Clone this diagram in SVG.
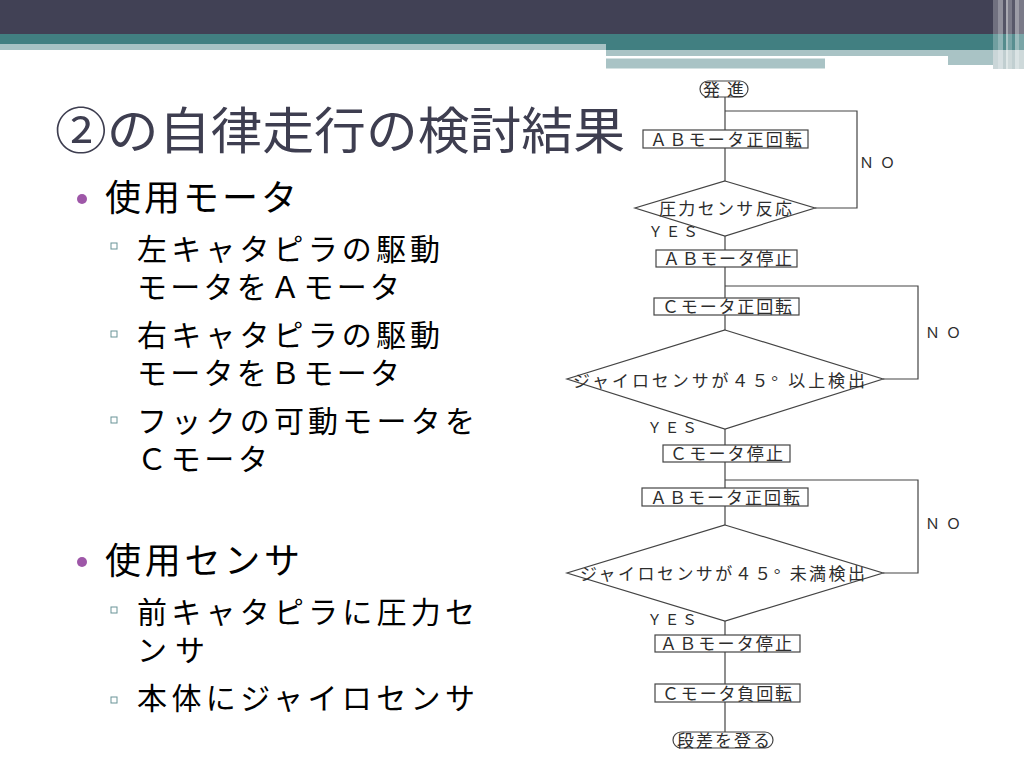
<svg xmlns="http://www.w3.org/2000/svg" width="1024" height="768" viewBox="0 0 1024 768">
<style>
.ttl{font-family:"Noto Sans CJK JP","Noto Sans",sans-serif;font-size:50px;fill:#3e3e50}
.b1{font-family:"Noto Sans CJK JP","Noto Sans",sans-serif;font-size:36px;fill:#000}
.b2{font-family:"Noto Sans CJK JP","Noto Sans",sans-serif;font-size:30px;fill:#000}
.sq{fill:#fff;stroke:#6a9497;stroke-width:1}
.dot{fill:#9e57a8}
.box{fill:#fff;stroke:#444;stroke-width:1.2}
.ft{font-family:"Liberation Serif","Noto Sans CJK JP",serif;font-size:17px;fill:#2d2d2d}
.lb{font-family:"Liberation Serif","Noto Sans CJK JP",serif;font-size:15px;fill:#2d2d2d}
.cn{fill:none;stroke:#444;stroke-width:1.2}
</style>
<rect width="1024" height="768" fill="#fff"/>
<g id="header">
<rect x="0" y="0" width="1024" height="34" fill="#414155"/>
<rect x="0" y="34" width="1024" height="16" fill="#417f81"/>
<rect x="0" y="44" width="606" height="6" fill="#a7c2c4"/>
<rect x="606" y="50" width="388" height="6" fill="#a9c3c5"/>
<rect x="606" y="56" width="342" height="2.5" fill="#fff"/>
<rect x="606" y="58.5" width="219" height="10" fill="#a9c3c5"/>
<rect x="948" y="56" width="46" height="9" fill="#a9c3c5"/>
<rect x="993" y="50" width="31" height="19" fill="#b9c9cb"/>
<rect x="993" y="0" width="5" height="69" fill="#fff" opacity="0.25"/>
<rect x="998" y="0" width="5" height="69" fill="#fff" opacity="0.42"/>
<rect x="1003" y="0" width="3" height="69" fill="#fff" opacity="0.1"/>
<rect x="1006" y="0" width="2" height="69" fill="#fff" opacity="0.55"/>
<rect x="1008" y="0" width="4" height="69" fill="#fff" opacity="0.3"/>
<rect x="1012" y="0" width="3" height="69" fill="#fff" opacity="0.12"/>
<rect x="1015" y="0" width="4" height="69" fill="#fff" opacity="0.48"/>
<rect x="1019" y="0" width="5" height="69" fill="#fff" opacity="0.3"/>
</g>
<g id="title">
<text class="ttl" x="55" y="149" textLength="570" lengthAdjust="spacingAndGlyphs">②の自律走行の検討結果</text>
</g>
<g id="bullets">
<circle class="dot" cx="82" cy="199" r="5"/>
<text class="b1" x="105" y="210.5" textLength="192" lengthAdjust="spacing">使用モータ</text>
<rect class="sq" x="111" y="243" width="6" height="6"/>
<text class="b2" x="137" y="259.5" textLength="303" lengthAdjust="spacing">左キャタピラの駆動</text>
<text class="b2" x="137" y="297.5" textLength="263" lengthAdjust="spacing">モータをＡモータ</text>
<rect class="sq" x="111" y="331" width="6" height="6"/>
<text class="b2" x="137" y="345.5" textLength="303" lengthAdjust="spacing">右キャタピラの駆動</text>
<text class="b2" x="137" y="383.5" textLength="263" lengthAdjust="spacing">モータをＢモータ</text>
<rect class="sq" x="111" y="417" width="6" height="6"/>
<text class="b2" x="137" y="431.5" textLength="338" lengthAdjust="spacing">フックの可動モータを</text>
<text class="b2" x="137" y="469.5" textLength="131" lengthAdjust="spacing">Ｃモータ</text>
<circle class="dot" cx="82" cy="562" r="5"/>
<text class="b1" x="105" y="573.5" textLength="195" lengthAdjust="spacing">使用センサ</text>
<rect class="sq" x="111" y="607" width="6" height="6"/>
<text class="b2" x="137" y="622.5" textLength="338" lengthAdjust="spacing">前キャタピラに圧力セ</text>
<text class="b2" x="137" y="660.5" textLength="68" lengthAdjust="spacing">ンサ</text>
<rect class="sq" x="111" y="697" width="6" height="6"/>
<text class="b2" x="137" y="708.5" textLength="338" lengthAdjust="spacing">本体にジャイロセンサ</text>
</g>
<g id="connectors">
<path class="cn" d="M725,97V130"/>
<path class="cn" d="M815,208H857V111H725"/>
<path class="cn" d="M725,148V181"/>
<path class="cn" d="M725,236V250"/>
<path class="cn" d="M725,267V298"/>
<path class="cn" d="M883,379H918V286H725"/>
<path class="cn" d="M725,315V330"/>
<path class="cn" d="M725,429V445"/>
<path class="cn" d="M725,462V488"/>
<path class="cn" d="M883,573H918V480H725"/>
<path class="cn" d="M725,506V525"/>
<path class="cn" d="M725,621V635"/>
<path class="cn" d="M725,652V684"/>
<path class="cn" d="M725,702V732"/>
<text class="lb" x="859" y="167.5" textLength="36" lengthAdjust="spacing">ＮＯ</text>
<text class="lb" x="648" y="236.5" textLength="50" lengthAdjust="spacing">ＹＥＳ</text>
<text class="lb" x="925" y="337.5" textLength="36" lengthAdjust="spacing">ＮＯ</text>
<text class="lb" x="647" y="432.5" textLength="50" lengthAdjust="spacing">ＹＥＳ</text>
<text class="lb" x="925" y="528.5" textLength="36" lengthAdjust="spacing">ＮＯ</text>
<text class="lb" x="647" y="624.5" textLength="50" lengthAdjust="spacing">ＹＥＳ</text>
</g>
<g id="start">
<rect class="box" x="700" y="81" width="48" height="16" rx="8"/>
<text class="ft" x="703" y="95.5" textLength="41" lengthAdjust="spacing">発進</text>
</g>
<g id="n1">
<rect class="box" x="643" y="130" width="165" height="18"/>
<text class="ft" x="650" y="145.5" textLength="152" lengthAdjust="spacing">ＡＢモータ正回転</text>
</g>
<g id="d1">
<polygon class="box" points="725,181 815,208 725,236 635,208"/>
<text class="ft" x="659" y="214.5" textLength="133" lengthAdjust="spacing">圧力センサ反応</text>
</g>
<g id="n2">
<rect class="box" x="656" y="250" width="141" height="17"/>
<text class="ft" x="663" y="265" textLength="129" lengthAdjust="spacing">ＡＢモータ停止</text>
</g>
<g id="n3">
<rect class="box" x="654" y="298" width="145" height="17"/>
<text class="ft" x="662" y="313" textLength="130" lengthAdjust="spacing">Ｃモータ正回転</text>
</g>
<g id="d2">
<polygon class="box" points="725,330 883,379 725,429 567,379"/>
<text class="ft" x="573" y="386.5" textLength="292" lengthAdjust="spacing">ジャイロセンサが４５° 以上検出</text>
</g>
<g id="n4">
<rect class="box" x="663" y="445" width="127" height="17"/>
<text class="ft" x="670" y="460" textLength="113" lengthAdjust="spacing">Ｃモータ停止</text>
</g>
<g id="n5">
<rect class="box" x="642" y="488" width="166" height="18"/>
<text class="ft" x="650" y="503.5" textLength="150" lengthAdjust="spacing">ＡＢモータ正回転</text>
</g>
<g id="d3">
<polygon class="box" points="725,525 883,573 725,621 567,573"/>
<text class="ft" x="580" y="580" textLength="285" lengthAdjust="spacing">ジャイロセンサが４５° 未満検出</text>
</g>
<g id="n6">
<rect class="box" x="655" y="635" width="145" height="17"/>
<text class="ft" x="660" y="650" textLength="132" lengthAdjust="spacing">ＡＢモータ停止</text>
</g>
<g id="n7">
<rect class="box" x="655" y="684" width="145" height="18"/>
<text class="ft" x="662" y="699.5" textLength="130" lengthAdjust="spacing">Ｃモータ負回転</text>
</g>
<g id="end">
<rect class="box" x="673" y="732" width="100" height="16" rx="8"/>
<text class="ft" x="677" y="746.5" textLength="93" lengthAdjust="spacing">段差を登る</text>
</g>
</svg>
